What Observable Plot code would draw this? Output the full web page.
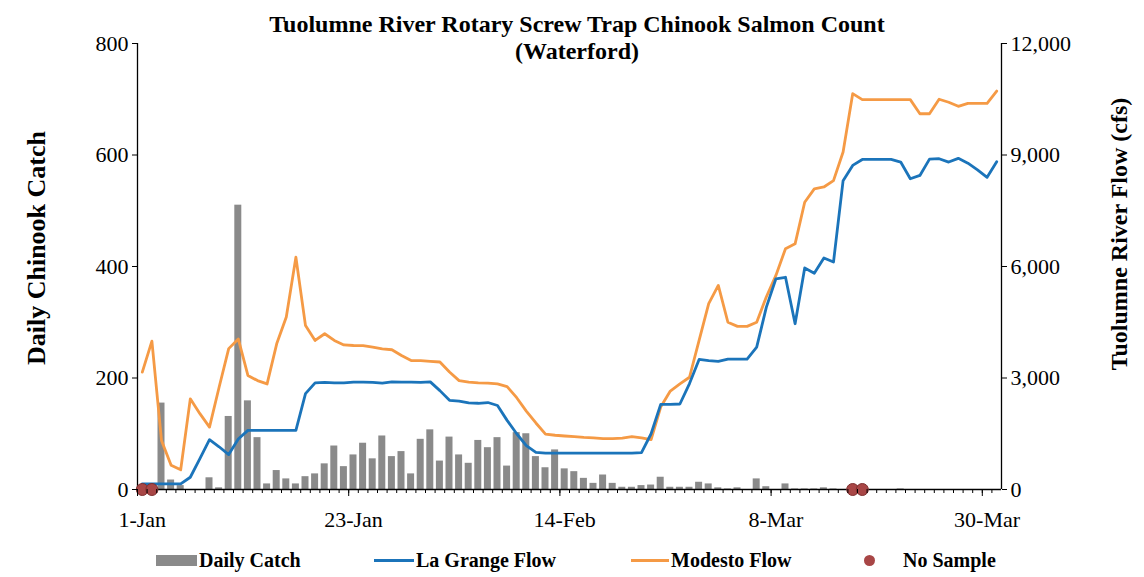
<!DOCTYPE html>
<html>
<head>
<meta charset="utf-8">
<script src="https://cdn.jsdelivr.net/npm/d3@7"></script>
<script src="https://cdn.jsdelivr.net/npm/@observablehq/plot@0.6"></script>
<style>
  body { margin: 0; background: #fff; }
  #wrap { position: relative; width: 1144px; height: 577px; font-family: "Liberation Serif", "Times New Roman", serif; color: #000; }
  #wrap svg { position: absolute; left: 0; top: 0; }
  .title { position: absolute; left: 0; top: 11px; width: 1154px; text-align: center; font-weight: bold; font-size: 24px; line-height: 27px; }
  .ytitle { position: absolute; transform: translate(-50%, -50%) rotate(-90deg); white-space: nowrap; font-weight: bold; font-size: 24px; }
  .leg { position: absolute; top: 549px; height: 22px; display: flex; align-items: center; font-weight: bold; font-size: 20px; white-space: nowrap; }
  .sw { display: inline-block; margin-right: 2px; }
</style>
</head>
<body>
<div id="wrap">
  <div class="title">Tuolumne River Rotary Screw Trap Chinook Salmon Count<br>(Waterford)</div>
  <div class="ytitle" style="left:37px; top:248px; font-size:26px;">Daily Chinook Catch</div>
  <div class="ytitle" style="left:1119px; top:234px;">Tuolumne River Flow (cfs)</div>
  <div class="leg" style="left:156px;"><span class="sw" style="width:41px;height:11px;background:#8a8a8a;"></span>Daily Catch</div>
  <div class="leg" style="left:374px;"><span class="sw" style="width:40px;height:3px;background:#1b74ba;"></span>La Grange Flow</div>
  <div class="leg" style="left:631px;"><span class="sw" style="width:38px;height:3px;background:#f59a45;"></span>Modesto Flow</div>
  <div class="leg" style="left:864px;"><span class="sw" style="width:11px;height:11px;border-radius:50%;background:#a84646;margin-right:28px;"></span>No Sample</div>
</div>
<script>
// ---- categories (daily, 1-Jan to 31-Mar) ----
const startDate = new Date(Date.UTC(2019, 0, 1));
const endDate = new Date(Date.UTC(2019, 3, 1));
const days = d3.utcDay.range(startDate, endDate);

// ---- series values ----
const dailyCatch = [
  0, 0, 155, 17, 7, 0, 0, 21, 3, 131,
  510, 159, 93, 10, 34, 19, 10, 23, 28, 46,
  78, 41, 62, 83, 55, 96, 59, 68, 28, 90,
  107, 51, 94, 62, 47, 88, 75, 93, 42, 102,
  100, 59, 39, 71, 37, 32, 20, 11, 26, 11,
  4, 4, 7, 8, 22, 4, 4, 4, 13, 10,
  3, 1, 3, 0, 19, 5, 0, 10, 1, 1,
  1, 3, 1, 0, 0, 0, 0, 0, 0, 1,
  0, 0, 0, 0, 0, 0, 0, 0, 0, 0
];
const laGrangeFlow = [
  150, 150, 150, 150, 150, 330, 830, 1340, 1150, 940,
  1360, 1590, 1590, 1590, 1590, 1590, 1590, 2580, 2870, 2880,
  2870, 2870, 2890, 2890, 2880, 2860, 2895, 2890, 2890, 2880,
  2895, 2660, 2400, 2380, 2330, 2320, 2340, 2260, 1860, 1500,
  1180, 1000, 980, 980, 980, 980, 980, 980, 980, 980,
  980, 980, 990, 1500, 2290, 2290, 2300, 2850, 3500, 3470,
  3450, 3510, 3510, 3510, 3830, 4900, 5670, 5710, 4460, 5960,
  5820, 6230, 6120, 8310, 8720, 8880, 8880, 8880, 8880, 8810,
  8360, 8450, 8890, 8900, 8810, 8910, 8780, 8600, 8400, 8820
];
const modestoFlow = [
  3160, 3990, 1320, 650, 530, 2440, 2040, 1680, 2750, 3790,
  4050, 3070, 2930, 2840, 3920, 4640, 6250, 4410, 4010, 4190,
  4010, 3890, 3875, 3870, 3830, 3785, 3760, 3605, 3470, 3470,
  3450, 3430, 3160, 2930, 2890, 2870, 2860, 2840, 2770, 2470,
  2110, 1790, 1490, 1460, 1440, 1420, 1400, 1390, 1370, 1370,
  1380, 1420, 1390, 1340, 2220, 2650, 2840, 3020, 4010, 5000,
  5490, 4500, 4390, 4390, 4500, 5180, 5760, 6480, 6610, 7730,
  8090, 8140, 8310, 9080, 10650, 10490, 10490, 10490, 10490, 10490,
  10490, 10110, 10110, 10500, 10420, 10310, 10390, 10390, 10390, 10720
];
const noSampleDates = ["2019-01-01", "2019-01-02", "2019-03-16", "2019-03-17"];

// ---- tick labels ----
const labelDates = ["2019-01-01", "2019-01-23", "2019-02-14", "2019-03-08", "2019-03-30"];
const catchTicks = [0, 200, 400, 600, 800];
const flowTicks = [0, 3000, 6000, 9000, 12000];

const flowPerCatch = flowTicks[flowTicks.length - 1] / catchTicks[catchTicks.length - 1];
const parse = s => new Date(s + "T00:00:00Z");
const noon = d => d3.utcHour.offset(d, 12);

const rows = days.map((date, i) => ({
  date, catch: dailyCatch[i], laGrange: laGrangeFlow[i], modesto: modestoFlow[i]
}));
const noSample = noSampleDates.map(parse);
const labelDays = labelDates.map(parse);

const blue = "#1b74ba", orange = "#f59a45";

const chart = Plot.plot({
  width: 1144,
  height: 577,
  marginTop: 43,
  marginBottom: 88,
  marginLeft: 137,
  marginRight: 143,
  style: { fontFamily: '"Liberation Serif", "Times New Roman", serif', fontSize: "22px", color: "#000", background: "transparent", overflow: "visible" },
  x: { type: "utc", domain: [startDate, endDate] },
  y: { domain: [catchTicks[0], catchTicks[catchTicks.length - 1]] },
  marks: [
    Plot.rectY(rows, { x1: "date", x2: d => d3.utcDay.offset(d.date, 1), y: "catch", fill: "#8a8a8a", insetLeft: 1.3, insetRight: 1.3 }),
    Plot.line(rows, { x: d => noon(d.date), y: d => d.modesto / flowPerCatch, stroke: orange, strokeWidth: 2.8 }),
    Plot.line(rows, { x: d => noon(d.date), y: d => d.laGrange / flowPerCatch, stroke: blue, strokeWidth: 2.8 }),
    Plot.ruleY([0], { stroke: "#000", strokeWidth: 1.3 }),
    Plot.ruleX([startDate, endDate], { stroke: "#000", strokeWidth: 1.3 }),
    Plot.dot(noSample, { x: d => noon(d), y: () => 0, r: 6, fill: "#a84646", stroke: "#7e2f2f", strokeWidth: 1 }),
    Plot.axisY({ anchor: "left", ticks: catchTicks, tickSize: 5, tickPadding: 4, label: null, fontSize: 22 }),
    Plot.axisY({ anchor: "right", ticks: flowTicks.map(f => f / flowPerCatch), tickFormat: d => d3.format(",")(d * flowPerCatch), tickSize: 5, tickPadding: 4, label: null, fontSize: 22 }),
    Plot.axisX({ ticks: days, tickSize: 4, tickFormat: () => "", label: null }),
    Plot.axisX({ ticks: labelDays, tickSize: 7, tickFormat: () => "", label: null }),
    Plot.axisX({ ticks: labelDays.map(noon), tickSize: 0, tickPadding: 22, tickFormat: d3.utcFormat("%-d-%b"), label: null, fontSize: 22 })
  ]
});
document.getElementById("wrap").prepend(chart);
</script>
</body>
</html>
